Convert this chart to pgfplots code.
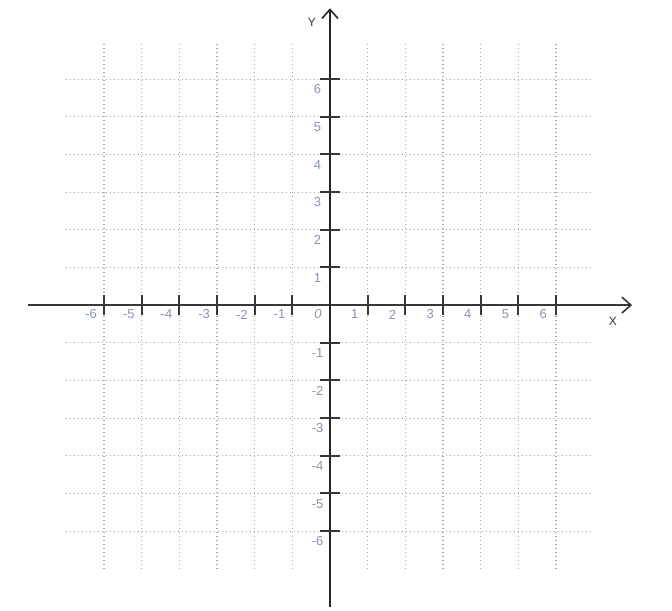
\documentclass[border=0pt]{standalone}
\usepackage{fontspec}
\setmainfont{Liberation Sans}
\usepackage{pgfplots}
\pgfplotsset{compat=1.18}
\usetikzlibrary{arrows.meta}
\definecolor{lab}{RGB}{135,148,172}
\definecolor{axc}{RGB}{55,55,55}
\begin{document}
\begin{tikzpicture}
\begin{axis}[
  x=18.835pt, y=18.835pt,
  xmin=-8.76, xmax=9.08, ymin=-8.10, ymax=8.10,
  hide axis, clip=false,
  scale only axis,
]
\addplot[draw=none] coordinates {(-8.76,-8.10) (9.08,8.10)};
% grid
\pgfplotsinvokeforeach{-6,-5,-4,-3,-2,-1,1,2,3,4,5,6}{
  \addplot[gray!70, line width=0.55pt, dash pattern=on 0.55pt off 1.45pt] coordinates {(#1,-7) (#1,7)};
  \addplot[gray!70, line width=0.55pt, dash pattern=on 0.55pt off 1.45pt] coordinates {(-7,#1) (7,#1)};
}
% axes
\addplot[axc, line width=0.8pt, -{Straight Barb[length=4.5pt,width=8pt,line width=0.8pt]}] coordinates {(-8.02,0) (8.02,0)};
\addplot[black!85, line width=0.8pt, -{Straight Barb[length=4.5pt,width=8pt,line width=0.8pt]}] coordinates {(0,-8.02) (0,7.88)};
% ticks
\pgfplotsinvokeforeach{-6,-5,-4,-3,-2,-1,1,2,3,4,5,6}{
  \addplot[axc, line width=1pt] coordinates {(#1,-0.26) (#1,0.26)};
  \addplot[axc, line width=1pt] coordinates {(-0.26,#1) (0.26,#1)};
}
% labels
\pgfplotsinvokeforeach{-6,-5,-4,-3,-2,-1,1,2,3,4,5,6}{
  \node[lab, font=\fontsize{6.5}{7}\selectfont] at (axis cs:#1-0.34,-0.25) {#1};
  \node[lab, font=\fontsize{6.5}{7}\selectfont] at (axis cs:-0.33,#1-0.27) {#1};
}
\node[lab, font=\fontsize{6.5}{7}\selectfont\itshape] at (axis cs:-0.32,-0.25) {0};
\node[black!80, font=\fontsize{6}{7}\selectfont] at (axis cs:7.51,-0.42) {X};
\node[black!80, font=\fontsize{6}{7}\selectfont] at (axis cs:-0.48,7.51) {Y};
\end{axis}
\end{tikzpicture}
\end{document}
